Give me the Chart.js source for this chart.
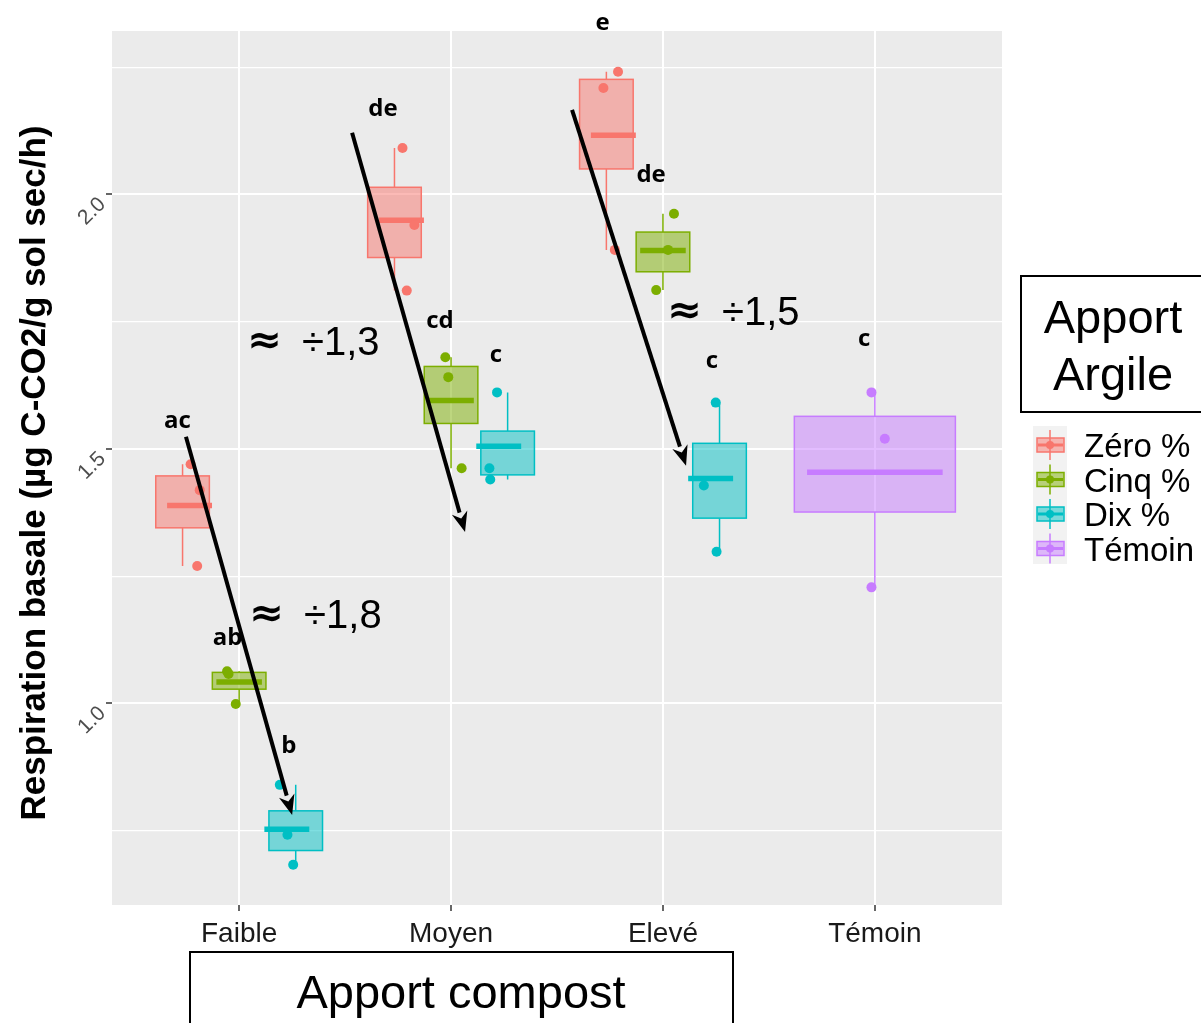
<!DOCTYPE html>
<html>
<head>
<meta charset="utf-8">
<script src="https://cdn.jsdelivr.net/npm/chart.js@4.4.0/dist/chart.umd.min.js"></script>
<style>
  html, body { margin: 0; padding: 0; background: #fff; }
  canvas { display: block; }
</style>
</head>
<body>
<canvas id="chart" width="1201" height="1023"></canvas>
<script>
// ---- data ----
const categories = ['Faible', 'Moyen', 'Elevé', 'Témoin'];
const groups = ['Zéro %', 'Cinq %', 'Dix %', 'Témoin'];
const yTicks = [0.75, 1.0, 1.25, 1.5, 1.75, 2.0, 2.25];
const yLabels = [1.0, 1.5, 2.0];

// raw replicate values, one list per category the group appears in
const zeroPoints   = [[1.470, 1.419, 1.270], [2.091, 1.940, 1.811], [2.241, 2.209, 1.891]];
const cinqPoints   = [[1.063, 1.058, 0.999], [1.680, 1.641, 1.462], [1.962, 1.891, 1.812]];
const dixPoints    = [[0.840, 0.742, 0.683], [1.611, 1.462, 1.440], [1.591, 1.428, 1.298]];
const temoinPoints = [[1.611, 1.520, 1.228]];

// horizontal jitter of each point (category units), as seen on the figure
const zeroJitter   = [[-0.229, -0.186, -0.198], [-0.229, -0.173, -0.209], [-0.212, -0.281, -0.227]];
const cinqJitter   = [[-0.057, -0.050, -0.016], [-0.027, -0.013, 0.050], [0.052, 0.024, -0.032]];
const dixJitter    = [[0.192, 0.228, 0.255], [0.217, 0.181, 0.185], [0.249, 0.193, 0.253]];
const temoinJitter = [[-0.016, 0.047, -0.016]];

// box limits and centre line
const zeroQ1 = [1.345, 1.876, 2.050], zeroQ3 = [1.447, 2.014, 2.226], zeroMid = [1.389, 1.949, 2.116];
const cinqQ1 = [1.028, 1.550, 1.848], cinqQ3 = [1.061, 1.662, 1.926], cinqMid = [1.042, 1.595, 1.890];
const dixQ1  = [0.711, 1.449, 1.364], dixQ3  = [0.789, 1.535, 1.511], dixMid  = [0.753, 1.505, 1.442];
const temoinQ1 = [1.376], temoinQ3 = [1.564], temoinMid = [1.454];

// significance letters
const letterText = ['ac', 'ab', 'b', 'de', 'cd', 'c', 'e', 'de', 'c', 'c'];
const letterX = [0.709, 0.945, 1.235, 1.679, 1.948, 2.212, 2.715, 2.944, 3.231, 3.949];
const letterY = [1.541, 1.115, 0.903, 2.154, 1.738, 1.671, 2.323, 2.025, 1.659, 1.702];

// ratio notes and arrows
const ratioText = ['÷1,3', '÷1,8', '÷1,5'];
const ratioX = [1.037, 1.047, 3.019];
const ratioY = [1.685, 1.148, 1.744];
const arrowFrom = [[0.749, 1.524], [1.533, 2.121], [2.571, 2.166]];
const arrowTo   = [[1.250, 0.781], [2.066, 1.337], [3.109, 1.467]];

// ---- styles ----
const colors = ['#F8766D', '#7CAE00', '#00BFC4', '#C77CFF'];
const fills = ['rgba(248,118,109,0.5)', 'rgba(124,174,0,0.5)', 'rgba(0,191,196,0.5)', 'rgba(199,124,255,0.5)'];
const boxOffset = [-0.267, 0, 0.267, 0];
const boxWidth = [0.253, 0.253, 0.253, 0.76];
const midOffset = [-0.234, 0, 0.225, 0];
const midWidth = [0.212, 0.215, 0.212, 0.64];
const groupCats = [[0, 1, 2], [0, 1, 2], [0, 1, 2], [3]];

const allPoints = [zeroPoints, cinqPoints, dixPoints, temoinPoints];
const allJitter = [zeroJitter, cinqJitter, dixJitter, temoinJitter];
const allQ1 = [zeroQ1, cinqQ1, dixQ1, temoinQ1];
const allQ3 = [zeroQ3, cinqQ3, dixQ3, temoinQ3];
const allMid = [zeroMid, cinqMid, dixMid, temoinMid];

const FONT = '"Liberation Sans", Arial, sans-serif';

const datasets = groups.map((g, gi) => {
    const pts = [];
    groupCats[gi].forEach((ci, k) => {
        allPoints[gi][k].forEach((v, j) => {
            pts.push({ x: ci + 1 + allJitter[gi][k][j], y: v });
        });
    });
    return {
        label: g,
        data: pts,
        backgroundColor: colors[gi],
        borderWidth: 0,
        pointRadius: 5,
        pointHoverRadius: 5
    };
});

// panel background
const panelBg = {
    id: 'panelBg',
    beforeDraw(chart) {
        const { ctx, chartArea: a } = chart;
        ctx.save();
        ctx.fillStyle = '#EBEBEB';
        ctx.fillRect(a.left, a.top, a.right - a.left, a.bottom - a.top);
        ctx.restore();
    }
};

// boxplots drawn through the scales
const boxes = {
    id: 'boxes',
    beforeDatasetsDraw(chart) {
        const ctx = chart.ctx;
        const xs = chart.scales.x, ys = chart.scales.y;
        ctx.save();
        groups.forEach((g, gi) => {
            groupCats[gi].forEach((ci, k) => {
                const c = ci + 1 + boxOffset[gi];
                const pts = allPoints[gi][k];
                const xc = xs.getPixelForValue(c);
                const xl = xs.getPixelForValue(c - boxWidth[gi] / 2);
                const xr = xs.getPixelForValue(c + boxWidth[gi] / 2);
                const yTop = ys.getPixelForValue(allQ3[gi][k]);
                const yBot = ys.getPixelForValue(allQ1[gi][k]);
                const yMax = ys.getPixelForValue(Math.max(...pts));
                const yMin = ys.getPixelForValue(Math.min(...pts));
                // whiskers
                ctx.strokeStyle = colors[gi];
                ctx.lineWidth = 1.5;
                ctx.beginPath();
                ctx.moveTo(xc, yMax); ctx.lineTo(xc, yTop);
                ctx.moveTo(xc, yBot); ctx.lineTo(xc, yMin);
                ctx.stroke();
                // box
                ctx.fillStyle = fills[gi];
                ctx.fillRect(xl, yTop, xr - xl, yBot - yTop);
                ctx.strokeRect(xl, yTop, xr - xl, yBot - yTop);
                // centre line
                const m = ci + 1 + midOffset[gi];
                const ym = ys.getPixelForValue(allMid[gi][k]);
                ctx.lineWidth = 5.5;
                ctx.beginPath();
                ctx.moveTo(xs.getPixelForValue(m - midWidth[gi] / 2), ym);
                ctx.lineTo(xs.getPixelForValue(m + midWidth[gi] / 2), ym);
                ctx.stroke();
            });
        });
        ctx.restore();
    }
};

function drawArrow(ctx, x1, y1, x2, y2) {
    const ang = Math.atan2(y2 - y1, x2 - x1);
    const hl = 20, hw = 8;
    const bx = x2 - hl * Math.cos(ang), by = y2 - hl * Math.sin(ang);
    ctx.beginPath();
    ctx.moveTo(x1, y1);
    ctx.lineTo(bx, by);
    ctx.stroke();
    ctx.beginPath();
    ctx.moveTo(x2, y2);
    ctx.lineTo(bx + hw * Math.sin(ang), by - hw * Math.cos(ang));
    ctx.lineTo(bx + 0.3 * hl * Math.cos(ang), by + 0.3 * hl * Math.sin(ang));
    ctx.lineTo(bx - hw * Math.sin(ang), by + hw * Math.cos(ang));
    ctx.closePath();
    ctx.fill();
}

// labels, annotations, legend, titles
const decorations = {
    id: 'decorations',
    afterDraw(chart) {
        const ctx = chart.ctx;
        const xs = chart.scales.x, ys = chart.scales.y;
        const a = chart.chartArea;
        ctx.save();

        // y tick labels, rotated
        ctx.fillStyle = '#4D4D4D';
        ctx.font = '21px ' + FONT;
        ctx.textAlign = 'center';
        ctx.textBaseline = 'middle';
        yLabels.forEach(v => {
            const y = ys.getPixelForValue(v);
            ctx.save();
            ctx.translate(a.left - 20, y + 17);
            ctx.rotate(-Math.PI / 4);
            ctx.fillText(v.toFixed(1), 0, 0);
            ctx.restore();
        });

        // x tick labels
        ctx.fillStyle = '#1a1a1a';
        ctx.font = '28px ' + FONT;
        ctx.textBaseline = 'alphabetic';
        categories.forEach((c, i) => {
            ctx.fillText(c, xs.getPixelForValue(i + 1), 942);
        });

        // y axis title
        ctx.save();
        ctx.translate(35, 473);
        ctx.rotate(-Math.PI / 2);
        ctx.fillStyle = '#000';
        ctx.font = 'bold 35px ' + FONT;
        ctx.textBaseline = 'middle';
        ctx.fillText('Respiration basale (µg C-CO2/g sol sec/h)', 0, 0);
        ctx.restore();

        // x axis title box
        ctx.strokeStyle = '#000';
        ctx.lineWidth = 2;
        ctx.strokeRect(190, 952, 543, 80);
        ctx.fillStyle = '#000';
        ctx.font = '47px ' + FONT;
        ctx.fillText('Apport compost', 461, 1008);

        // significance letters
        ctx.font = 'bold 24px "Open Sans", sans-serif';
        letterText.forEach((t, i) => {
            ctx.fillText(t, xs.getPixelForValue(letterX[i]), ys.getPixelForValue(letterY[i]));
        });

        // ratio notes: a wide approx sign followed by the ratio
        ctx.textAlign = 'left';
        ratioText.forEach((t, i) => {
            const x = xs.getPixelForValue(ratioX[i]);
            const y = ys.getPixelForValue(ratioY[i]);
            ctx.font = 'bold 44px "DejaVu Sans", sans-serif';
            ctx.save();
            ctx.translate(x, y - 2);
            ctx.scale(0.95, 0.9);
            ctx.fillText('≈', 0, 0);
            ctx.restore();
            ctx.font = '40px ' + FONT;
            ctx.fillText(t, x + 55, y);
        });

        // arrows
        ctx.lineWidth = 4;
        ctx.lineCap = 'butt';
        arrowFrom.forEach((p, i) => {
            drawArrow(ctx,
                xs.getPixelForValue(p[0]), ys.getPixelForValue(p[1]),
                xs.getPixelForValue(arrowTo[i][0]), ys.getPixelForValue(arrowTo[i][1]));
        });

        // legend title box
        ctx.lineWidth = 2;
        ctx.strokeRect(1021, 276, 190, 136);
        ctx.textAlign = 'center';
        ctx.font = '47px ' + FONT;
        ctx.fillText('Apport', 1113, 333);
        ctx.fillText('Argile', 1113, 390);

        // legend keys
        ctx.fillStyle = '#F2F2F2';
        ctx.fillRect(1033, 426, 34, 138);
        groups.forEach((g, gi) => {
            const cy = 445 + gi * 34.5;
            ctx.strokeStyle = colors[gi];
            ctx.lineWidth = 1.5;
            ctx.beginPath();
            ctx.moveTo(1050, cy - 15); ctx.lineTo(1050, cy + 15);
            ctx.stroke();
            ctx.fillStyle = fills[gi];
            ctx.fillRect(1037, cy - 7, 27, 14);
            ctx.strokeRect(1037, cy - 7, 27, 14);
            ctx.lineWidth = 3;
            ctx.beginPath();
            ctx.moveTo(1038, cy); ctx.lineTo(1063, cy);
            ctx.stroke();
            ctx.fillStyle = colors[gi];
            ctx.beginPath();
            ctx.arc(1050, cy, 4, 0, Math.PI * 2);
            ctx.fill();
            ctx.fillStyle = '#000';
            ctx.font = '33px ' + FONT;
            ctx.textAlign = 'left';
            ctx.fillText(g, 1084, cy + 12);
        });

        ctx.restore();
    }
};

new Chart(document.getElementById('chart'), {
    type: 'scatter',
    data: { datasets },
    options: {
        responsive: false,
        animation: false,
        layout: { padding: { left: 0, top: 31, right: 199, bottom: 0 } },
        plugins: { legend: { display: false }, tooltip: { enabled: false } },
        scales: {
            x: {
                type: 'linear',
                min: 0.4,
                max: 4.6,
                afterFit: s => { s.height = 118; },
                afterBuildTicks: s => { s.ticks = [1, 2, 3, 4].map(v => ({ value: v })); },
                ticks: { display: false },
                border: { display: false },
                grid: { color: '#ffffff', lineWidth: 2, tickColor: '#333333', tickLength: 6, tickWidth: 1.5 }
            },
            y: {
                type: 'linear',
                min: 0.604,
                max: 2.321,
                afterFit: s => { s.width = 112; },
                afterBuildTicks: s => { s.ticks = yTicks.map(v => ({ value: v })); },
                ticks: { display: false },
                border: { display: false },
                grid: {
                    color: '#ffffff',
                    lineWidth: c => (yLabels.includes(c.tick.value) ? 2 : 1.2),
                    tickColor: c => (yLabels.includes(c.tick.value) ? '#333333' : 'rgba(0,0,0,0)'),
                    tickLength: 6,
                    tickWidth: 1.5
                }
            }
        }
    },
    plugins: [panelBg, boxes, decorations]
});
</script>
</body>
</html>
